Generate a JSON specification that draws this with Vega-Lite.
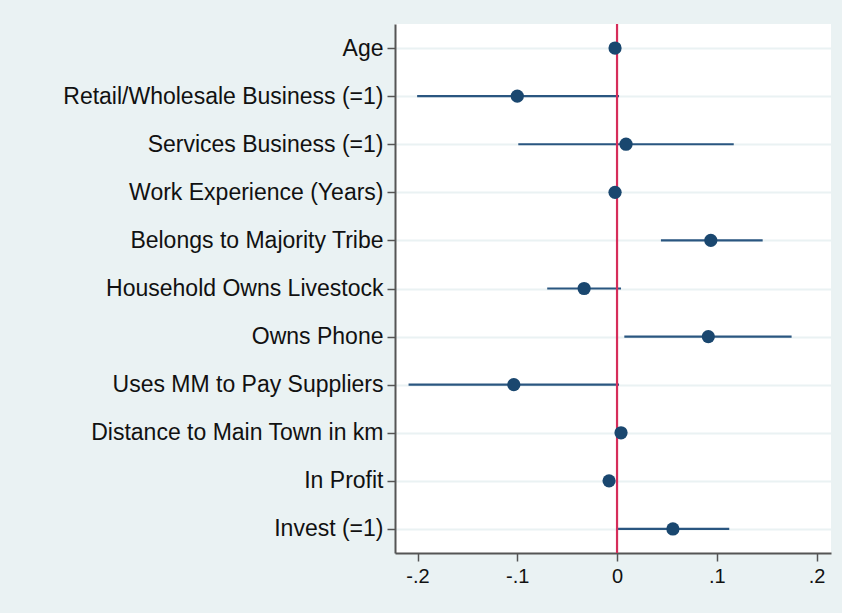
{
  "$schema": "https://vega.github.io/schema/vega-lite/v6.json",
  "width": 436,
  "height": 529,
  "autosize": {"type": "none"},
  "padding": {"left": 395, "top": 24, "right": 11, "bottom": 60},
  "background": "#eaf2f3",
  "config": {
    "view": {"fill": "white", "stroke": null},
    "font": "Liberation Sans"
  },
  "data": {
    "values": [
      {"var": "Age", "b": -0.002, "lo": -0.003, "hi": -0.001},
      {"var": "Retail/Wholesale Business (=1)", "b": -0.100, "lo": -0.2004, "hi": 0.002},
      {"var": "Services Business (=1)", "b": 0.009, "lo": -0.099, "hi": 0.117},
      {"var": "Work Experience (Years)", "b": -0.002, "lo": -0.003, "hi": -0.001},
      {"var": "Belongs to Majority Tribe", "b": 0.094, "lo": 0.044, "hi": 0.146},
      {"var": "Household Owns Livestock", "b": -0.033, "lo": -0.070, "hi": 0.004},
      {"var": "Owns Phone", "b": 0.0915, "lo": 0.0073, "hi": 0.175},
      {"var": "Uses MM to Pay Suppliers", "b": -0.1035, "lo": -0.209, "hi": 0.002},
      {"var": "Distance to Main Town in km", "b": 0.004, "lo": 0.003, "hi": 0.005},
      {"var": "In Profit", "b": -0.008, "lo": -0.009, "hi": -0.007},
      {"var": "Invest (=1)", "b": 0.056, "lo": 0.001, "hi": 0.1125}
    ]
  },
  "encoding": {
    "y": {
      "field": "var",
      "type": "nominal",
      "sort": null,
      "scale": {"type": "point", "padding": 0.5},
      "axis": {
        "title": null,
        "labelFont": "Liberation Sans",
        "labelFontSize": 23,
        "labelColor": "#111111",
        "labelPadding": 4,
        "labelLimit": 400,
        "tickSize": 8,
        "tickColor": "#555555",
        "tickWidth": 1.5,
        "domainColor": "#555555",
        "domainWidth": 2,
        "grid": true,
        "gridColor": "#eaf2f3",
        "gridWidth": 2
      }
    }
  },
  "layer": [
    {
      "mark": {"type": "rule", "color": "#2a5680", "strokeWidth": 2.2},
      "encoding": {
        "x": {
          "field": "lo",
          "type": "quantitative",
          "scale": {"domain": [-0.2226, 0.2145], "nice": false, "zero": false},
          "axis": {
            "title": null,
            "values": [-0.2, -0.1, 0, 0.1, 0.2],
            "labelExpr": "datum.value == 0 ? '0' : (datum.value < 0 ? '-' : '') + '.' + format(abs(datum.value) * 10, '.0f')",
            "labelFont": "Liberation Sans",
            "labelFontSize": 20,
            "labelColor": "#111111",
            "labelPadding": 5,
            "labelFlush": false,
            "tickSize": 8,
            "tickColor": "#555555",
            "tickWidth": 1.5,
            "domainColor": "#555555",
            "domainWidth": 2,
            "grid": false
          }
        },
        "x2": {"field": "hi"}
      }
    },
    {
      "mark": {"type": "rule", "color": "#d62d5a", "strokeWidth": 2.2},
      "data": {"values": [{"z": 0}]},
      "encoding": {
        "x": {"field": "z", "type": "quantitative"},
        "y": null
      }
    },
    {
      "mark": {"type": "point", "filled": true, "color": "#1a476f", "size": 175, "opacity": 1},
      "encoding": {
        "x": {"field": "b", "type": "quantitative"}
      }
    }
  ]
}
